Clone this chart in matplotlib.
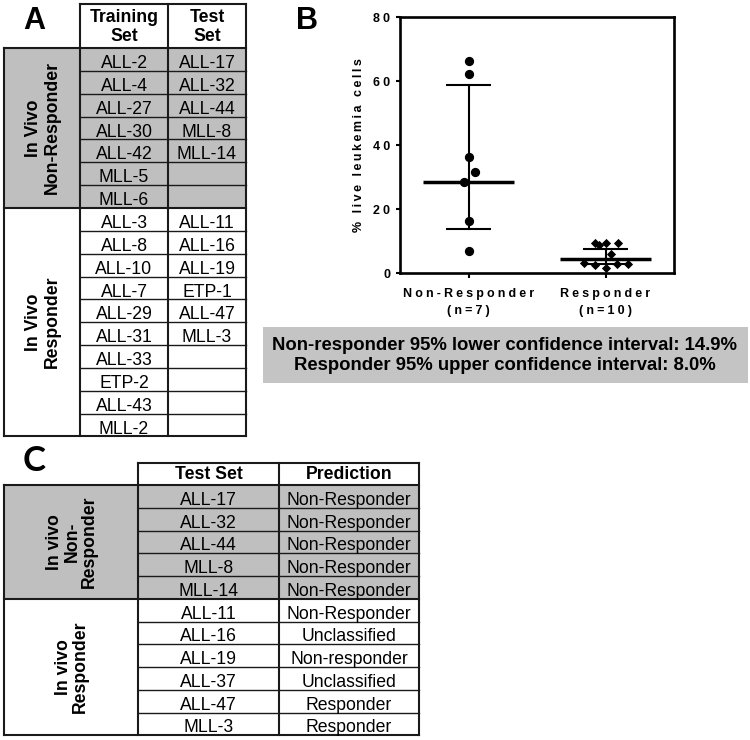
import matplotlib
matplotlib.use('Agg')
import matplotlib.pyplot as plt
from matplotlib.patches import Rectangle

# ---------------- Panel A data ----------------
a_headers = ['Training\nSet', 'Test\nSet']
a_group_labels = ['In Vivo\nNon-Responder', 'In Vivo\nResponder']
train_nonresp = ['ALL-2', 'ALL-4', 'ALL-27', 'ALL-30', 'ALL-42', 'MLL-5', 'MLL-6']
test_nonresp = ['ALL-17', 'ALL-32', 'ALL-44', 'MLL-8', 'MLL-14']
train_resp = ['ALL-3', 'ALL-8', 'ALL-10', 'ALL-7', 'ALL-29', 'ALL-31', 'ALL-33',
              'ETP-2', 'ALL-43', 'MLL-2']
test_resp = ['ALL-11', 'ALL-16', 'ALL-19', 'ETP-1', 'ALL-47', 'MLL-3']

# ---------------- Panel B data ----------------
groups = ['Non-Responder', 'Responder']
group_n = [7, 10]
nonresp_pct = [66.2, 62.2, 36.2, 31.5, 28.3, 16.1, 7.0]
resp_pct = [9.5, 8.9, 9.35, 9.5, 6.0, 3.2, 2.5, 1.6, 2.7, 2.9]
center_val = [28.4, 4.4]
ci_low = [13.8, 2.7]
ci_high = [58.6, 7.5]
y_ticks = [0, 20, 40, 60, 80]
ci_note = ['Non-responder 95% lower confidence interval: 14.9%',
           'Responder 95% upper confidence interval: 8.0%']

# ---------------- Panel C data ----------------
c_headers = ['Test Set', 'Prediction']
c_group_labels = ['In vivo\nNon-\nResponder', 'In vivo\nResponder']
c_test_nonresp = ['ALL-17', 'ALL-32', 'ALL-44', 'MLL-8', 'MLL-14']
c_pred_nonresp = ['Non-Responder', 'Non-Responder', 'Non-Responder',
                  'Non-Responder', 'Non-Responder']
c_test_resp = ['ALL-11', 'ALL-16', 'ALL-19', 'ALL-37', 'ALL-47', 'MLL-3']
c_pred_resp = ['Non-Responder', 'Unclassified', 'Non-responder', 'Unclassified',
               'Responder', 'Responder']

# ---------------- styles ----------------
ARIAL = ['Liberation Sans', 'DejaVu Sans']
GREY = '#bfbfbf'
LINE = '#1a1a1a'
TXT_PT = 12.7

fig = plt.figure(figsize=(7.5, 7.4), dpi=100)
bg = fig.add_axes([0, 0, 1, 1])
bg.set_xlim(0, 750)
bg.set_ylim(740, 0)
bg.axis('off')


def draw_table(col_x, head_top, head_bot, row_h, headers, group_cols, group_labels,
               label_ls=1.15):
    x0, x_end = col_x[0], col_x[-1]
    y = head_bot
    bounds = [y]
    for gi, cols in enumerate(group_cols):
        nrows = max(len(c) for c in cols)
        h = nrows * row_h
        if gi == 0:
            bg.add_patch(Rectangle((x0, y), x_end - x0, h, facecolor=GREY,
                                   edgecolor='none', zorder=1))
        for r in range(1, nrows):
            yy = y + r * row_h
            bg.plot([col_x[1], x_end], [yy, yy], color=LINE, lw=1.0, zorder=3)
        for ci, col in enumerate(cols):
            cx = (col_x[ci + 1] + col_x[ci + 2]) / 2
            for r, name in enumerate(col):
                bg.text(cx, y + r * row_h + row_h * 0.5 + 8.6, name, ha='center',
                        va='baseline', fontsize=TXT_PT, family=ARIAL, zorder=4)
        bg.text((col_x[0] + col_x[1]) / 2 + 1, y + h / 2, group_labels[gi], rotation=90,
                ha='center', va='center', fontsize=TXT_PT, fontweight='bold',
                family=ARIAL, multialignment='center', linespacing=label_ls, zorder=4)
        y += h
        bounds.append(y)
    for yy in bounds:
        bg.plot([x0, x_end], [yy, yy], color=LINE, lw=1.5, zorder=3,
                solid_capstyle='projecting')
    bg.plot([col_x[1], x_end], [head_top, head_top], color=LINE, lw=1.5, zorder=3,
            solid_capstyle='projecting')
    for ci, htxt in enumerate(headers):
        cx = (col_x[ci + 1] + col_x[ci + 2]) / 2
        bg.text(cx, (head_top + head_bot) / 2 + 1, htxt, ha='center', va='center',
                fontsize=TXT_PT, fontweight='bold', family=ARIAL,
                linespacing=1.15, zorder=4)
    bg.plot([x0, x0], [head_bot, bounds[-1]], color=LINE, lw=1.5, zorder=3,
            solid_capstyle='projecting')
    for xx in col_x[1:]:
        bg.plot([xx, xx], [head_top, bounds[-1]], color=LINE, lw=1.5, zorder=3,
                solid_capstyle='projecting')


# Panel A table
draw_table([4, 80, 168, 246], 4, 48, 22.85, a_headers,
           [[train_nonresp, test_nonresp], [train_resp, test_resp]], a_group_labels)
bg.text(34, 21, 'A', ha='center', va='center', fontsize=22, fontweight='bold',
        family=ARIAL)

# Panel C table
draw_table([4, 138, 279, 419], 462.7, 485, 22.75, c_headers,
           [[c_test_nonresp, c_pred_nonresp], [c_test_resp, c_pred_resp]],
           c_group_labels, label_ls=1.05)
bg.text(34, 461, 'C', ha='center', va='center', fontsize=25, fontweight='bold',
        family=['Lato', 'DejaVu Sans'])

# Panel B label and note box
bg.text(307, 21, 'B', ha='center', va='center', fontsize=22, fontweight='bold',
        family=ARIAL)
bg.add_patch(Rectangle((263, 327), 485, 56, facecolor='#c4c4c4', edgecolor='none'))
bg.text(505, 345, ci_note[0], ha='center', va='center', fontsize=13.3,
        fontweight='bold', family=ARIAL)
bg.text(505, 366, ci_note[1], ha='center', va='center', fontsize=13.3,
        fontweight='bold', family=ARIAL)

# ---------------- Panel B plot ----------------
SEP = '\u2005'


def spaced(s, sep=SEP):
    return sep.join(list(s))


ax = fig.add_axes([400 / 750, 1 - 273 / 740, 274 / 750, 256 / 740])
ax.set_xlim(-0.5, 1.5)
ax.set_ylim(0, 80)

nonresp_jit = [0, 0, 0, 0.045, -0.035, 0, 0]
resp_jit = [-0.08, -0.046, 0, 0.09, 0.04, -0.158, -0.08, 0, 0.085, 0.163]
ax.scatter([0 + j for j in nonresp_jit], nonresp_pct, s=32, marker='o',
           color='black', zorder=4, clip_on=False)
ax.scatter([1 + j for j in resp_jit], resp_pct, s=22, marker='D',
           color='black', zorder=4, clip_on=False, linewidths=0)

for i in range(2):
    ax.plot([i - 0.33, i + 0.33], [center_val[i]] * 2, color='black', lw=2.5,
            zorder=5, solid_capstyle='butt')
    ax.plot([i, i], [ci_low[i], ci_high[i]], color='black', lw=1.5, zorder=5)
    for v in (ci_low[i], ci_high[i]):
        ax.plot([i - 0.165, i + 0.165], [v, v], color='black', lw=1.5, zorder=5,
                solid_capstyle='butt')

for sp in ax.spines.values():
    sp.set_linewidth(1.9)
ax.set_yticks(y_ticks)
ax.set_yticklabels([spaced(str(t)) for t in y_ticks], fontsize=9,
                   fontweight='bold', family=ARIAL)
ax.set_xticks([0, 1])
ax.set_xticklabels([spaced(g) + '\n' + spaced('(n=%d)' % n)
                    for g, n in zip(groups, group_n)],
                   fontsize=9, fontweight='bold', family=ARIAL)
for t in ax.get_xticklabels():
    t.set_linespacing(1.6)
ax.tick_params(axis='y', direction='out', length=3, width=1.5, pad=4)
ax.tick_params(axis='x', direction='out', length=3.5, width=1.5, pad=7)
ax.set_ylabel(spaced('% live leukemia cells', '\u2009'), fontsize=9,
              fontweight='bold', family=ARIAL, labelpad=6)

fig.savefig('out.png', dpi=100)
